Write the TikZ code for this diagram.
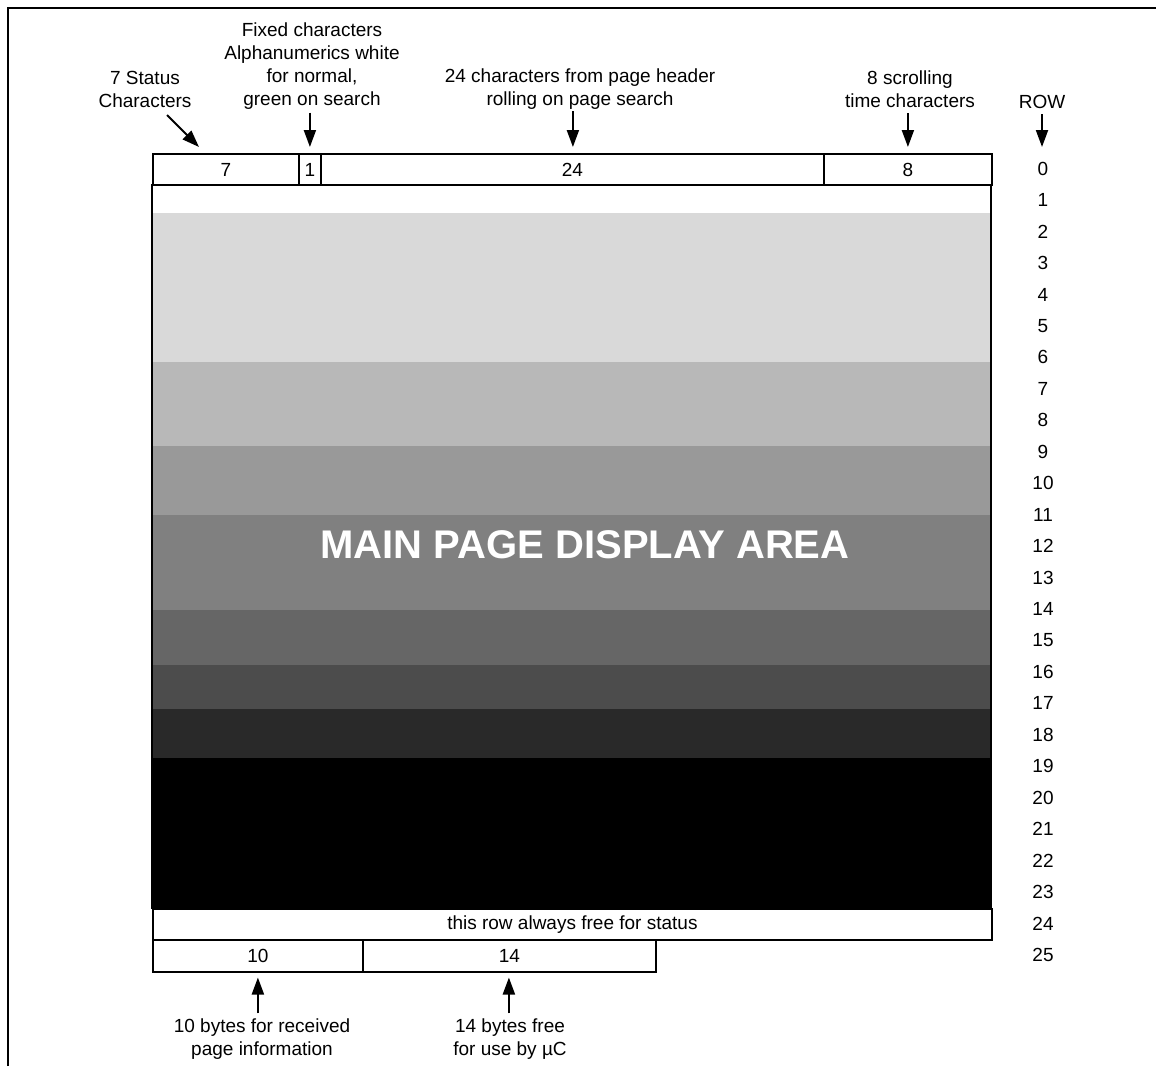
\documentclass[tikz,border=0pt]{standalone}
\usepackage{fontspec}
\setmainfont{Liberation Sans}
\usetikzlibrary{arrows.meta}
\begin{document}
\begin{tikzpicture}[x=1pt,y=-1pt,
  every node/.style={font=\fontsize{19}{23}\selectfont, inner sep=0pt},
  cell/.style={draw, line width=1.8pt, anchor=north west, minimum height=31.45pt},
  lab/.style={align=center},
  arr/.style={-{Triangle[width=12pt,length=17pt]}, line width=2pt},
  frame/.style={line width=2pt}
  ]
\useasboundingbox (0,0) rectangle (1156,1066);
% frame (top and left)
\draw[frame] (8,1066) -- (8,7.5) -- (1156,7.5);

% shaded display area
\fill[black!15] (152,213) rectangle (991,362);
\fill[black!28] (152,362) rectangle (991,446);
\fill[black!40] (152,446) rectangle (991,515);
\fill[black!50] (152,515) rectangle (991,610);
\fill[black!60] (152,610) rectangle (991,665);
\fill[black!70] (152,665) rectangle (991,709);
\fill[black!84] (152,709) rectangle (991,758);
\fill[black] (152,758) rectangle (991,907.8);
\draw[line width=1.8pt] (152,184.45) rectangle (991,907.8);
\node[text=white, font=\fontsize{40}{40}\selectfont\bfseries] (main) at (585,545) {MAIN PAGE DISPLAY AREA};

% row 0
\node[cell, minimum width=146pt] (c7) at (152,153) {7};
\node[cell, minimum width=22pt] (c1) at (298,153) {1};
\node[cell, minimum width=503pt] (c24) at (320,153) {24};
\node[cell, minimum width=168pt] (c8) at (823,153) {8};

% row 24
\node[cell, minimum width=839pt] (status) at (152,907.8) {this row always free for status};

% row 25
\node[cell, minimum width=210pt] (c10) at (152,939.25) {10};
\node[cell, minimum width=293pt] (c14) at (362,939.25) {14};

% row numbers
\foreach \r in {0,...,25} {
  \node (r\r) at (1043, 168.7+31.45*\r) {\r};
}

% top labels
\node[lab] (l7) at (145,89.5) {7 Status\\Characters};
\node[lab] (lfix) at (312,66) {Fixed characters\\Alphanumerics white\\for normal,\\green on search};
\node[lab] (l24) at (580,89.5) {24 characters from page header\\rolling on page search};
\node[lab] (l8) at (910,89.5) {8 scrolling\\time characters};
\node (lrow) at (1042,101.5) {ROW};

\coordinate (s7) at (167,115);
\coordinate (e7) at (199,147);
\draw[arr] (s7) -- (e7);
\draw[arr, shorten <=3pt, shorten >=6pt] (lfix.south -| c1.north) -- (c1.north);
\draw[arr, shorten <=1pt, shorten >=6pt] ([xshift=0.5pt]l24.south -| c24.north) -- ([xshift=0.5pt]c24.north);
\draw[arr, shorten <=5pt, shorten >=6pt] (l8.south -| c8.north) -- (c8.north);
\draw[arr, shorten <=6pt, shorten >=6pt] (lrow.south) -- (lrow.south |- c8.north);

% bottom labels
\node[lab] (l10) at (262,1039) {10 bytes for received\\page information};
\node[lab] (l14) at (510,1039) {14 bytes free\\for use by µC};
\draw[arr, shorten <=5pt, shorten >=5pt] (l10.north -| c10.south) -- (c10.south);
\draw[arr, shorten <=5pt, shorten >=5pt] ([xshift=-0.5pt]l14.north -| c14.south) -- ([xshift=-0.5pt]c14.south);
\end{tikzpicture}
\end{document}
